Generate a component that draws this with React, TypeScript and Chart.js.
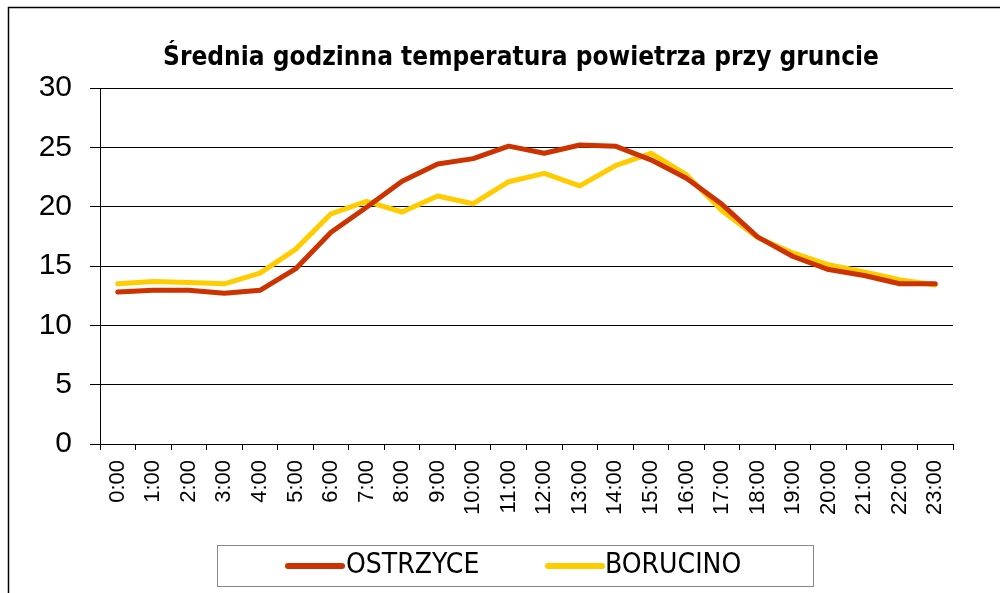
import React, { useEffect, useRef } from 'react';
import { Chart, registerables } from 'chart.js';

Chart.register(...registerables);

const chartTitle = 'Średnia godzinna temperatura powietrza przy gruncie';
const hours = [
  '0:00', '1:00', '2:00', '3:00', '4:00', '5:00', '6:00', '7:00', '8:00', '9:00', '10:00', '11:00',
  '12:00', '13:00', '14:00', '15:00', '16:00', '17:00', '18:00', '19:00', '20:00', '21:00', '22:00', '23:00',
];
const ostrzyce = [
  12.8, 12.95, 12.95, 12.7, 12.95, 14.75, 17.85, 19.95, 22.15, 23.6, 24.05, 25.1,
  24.5, 25.2, 25.1, 23.95, 22.4, 20.2, 17.45, 15.8, 14.7, 14.2, 13.5, 13.5,
];
const borucino = [
  13.5, 13.7, 13.6, 13.5, 14.4, 16.4, 19.4, 20.45, 19.55, 20.9, 20.25, 22.1,
  22.8, 21.75, 23.45, 24.5, 22.7, 19.65, 17.4, 16.1, 15.1, 14.5, 13.85, 13.4,
];
const seriesNames = ['OSTRZYCE', 'BORUCINO'];
const seriesColors = ['#CC3300', '#FFCC00'];
const yMin = 0;
const yMax = 30;
const yStep = 5;

const NARROW = '"Liberation Sans Narrow", "DejaVu Sans Condensed", "Open Sans", sans-serif';

const decorPlugin = {
  id: 'decor',
  afterDraw(chart: any) {
    const ctx = chart.ctx as CanvasRenderingContext2D;
    ctx.save();
    // outer frame
    ctx.strokeStyle = '#000';
    ctx.lineWidth = 1.5;
    ctx.beginPath();
    ctx.moveTo(8.5, 600);
    ctx.lineTo(8.5, 7.5);
    ctx.lineTo(1002, 7.5);
    ctx.stroke();

    // title
    ctx.fillStyle = '#000';
    ctx.font = `bold 26px ${NARROW}`;
    ctx.textAlign = 'center';
    ctx.textBaseline = 'alphabetic';
    ctx.fillText(chartTitle, 521, 65);

    // legend box
    ctx.strokeStyle = '#888';
    ctx.lineWidth = 1;
    ctx.strokeRect(217.5, 545.5, 596, 41);
    const items = [
      { x0: 288, x1: 342, tx: 346 },
      { x0: 548, x1: 602, tx: 605 },
    ];
    items.forEach((it, i) => {
      ctx.strokeStyle = seriesColors[i];
      ctx.lineWidth = 6;
      ctx.lineCap = 'round';
      ctx.beginPath();
      ctx.moveTo(it.x0, 566);
      ctx.lineTo(it.x1, 566);
      ctx.stroke();
      ctx.fillStyle = '#000';
      ctx.font = `28px ${NARROW}`;
      ctx.textAlign = 'left';
      ctx.textBaseline = 'middle';
      ctx.fillText(seriesNames[i], it.tx, 566);
    });
    ctx.restore();
  },
};

export default function App() {
  const ref = useRef<HTMLCanvasElement | null>(null);
  useEffect(() => {
    if (!ref.current) return;
    const chart = new Chart(ref.current, {
      type: 'line',
      data: {
        labels: hours,
        datasets: [
          {
            label: seriesNames[0],
            data: ostrzyce,
            borderColor: seriesColors[0],
            backgroundColor: seriesColors[0],
            borderWidth: 5,
            pointRadius: 0,
            tension: 0,
            borderCapStyle: 'round',
            borderJoinStyle: 'round',
          },
          {
            label: seriesNames[1],
            data: borucino,
            borderColor: seriesColors[1],
            backgroundColor: seriesColors[1],
            borderWidth: 5,
            pointRadius: 0,
            tension: 0,
            borderCapStyle: 'round',
            borderJoinStyle: 'round',
          },
        ],
      },
      options: {
        responsive: false,
        animation: false,
        layout: { padding: { left: 0, right: 47, top: 88, bottom: 0 } },
        plugins: {
          legend: { display: false },
          title: { display: false },
          tooltip: { enabled: false },
        },
        scales: {
          x: {
            type: 'category',
            offset: true,
            grid: {
              offset: true,
              drawOnChartArea: false,
              drawTicks: true,
              tickLength: 6,
              color: '#000',
              lineWidth: 1,
            },
            border: { color: '#000', width: 1 },
            ticks: {
              minRotation: 90,
              maxRotation: 90,
              autoSkip: false,
              padding: 10,
              color: '#000',
              font: { family: '"Liberation Sans", Arial, sans-serif', size: 22 },
            },
            afterFit: (s: any) => {
              s.height = 149;
            },
          },
          y: {
            min: yMin,
            max: yMax,
            ticks: {
              stepSize: yStep,
              padding: 18,
              color: '#000',
              font: { family: '"Liberation Sans", Arial, sans-serif', size: 30 },
            },
            grid: {
              color: '#000',
              lineWidth: 1,
              tickLength: 10,
            },
            border: { color: '#000', width: 1 },
            afterFit: (s: any) => {
              s.width = 100;
            },
          },
        },
      },
      plugins: [decorPlugin],
    });
    return () => chart.destroy();
  }, []);
  return (
    <div style={{ position: 'absolute', left: 0, top: 0, width: 1000, height: 593, background: '#fff' }}>
      <canvas ref={ref} width={1000} height={593} style={{ display: 'block' }} />
    </div>
  );
}
